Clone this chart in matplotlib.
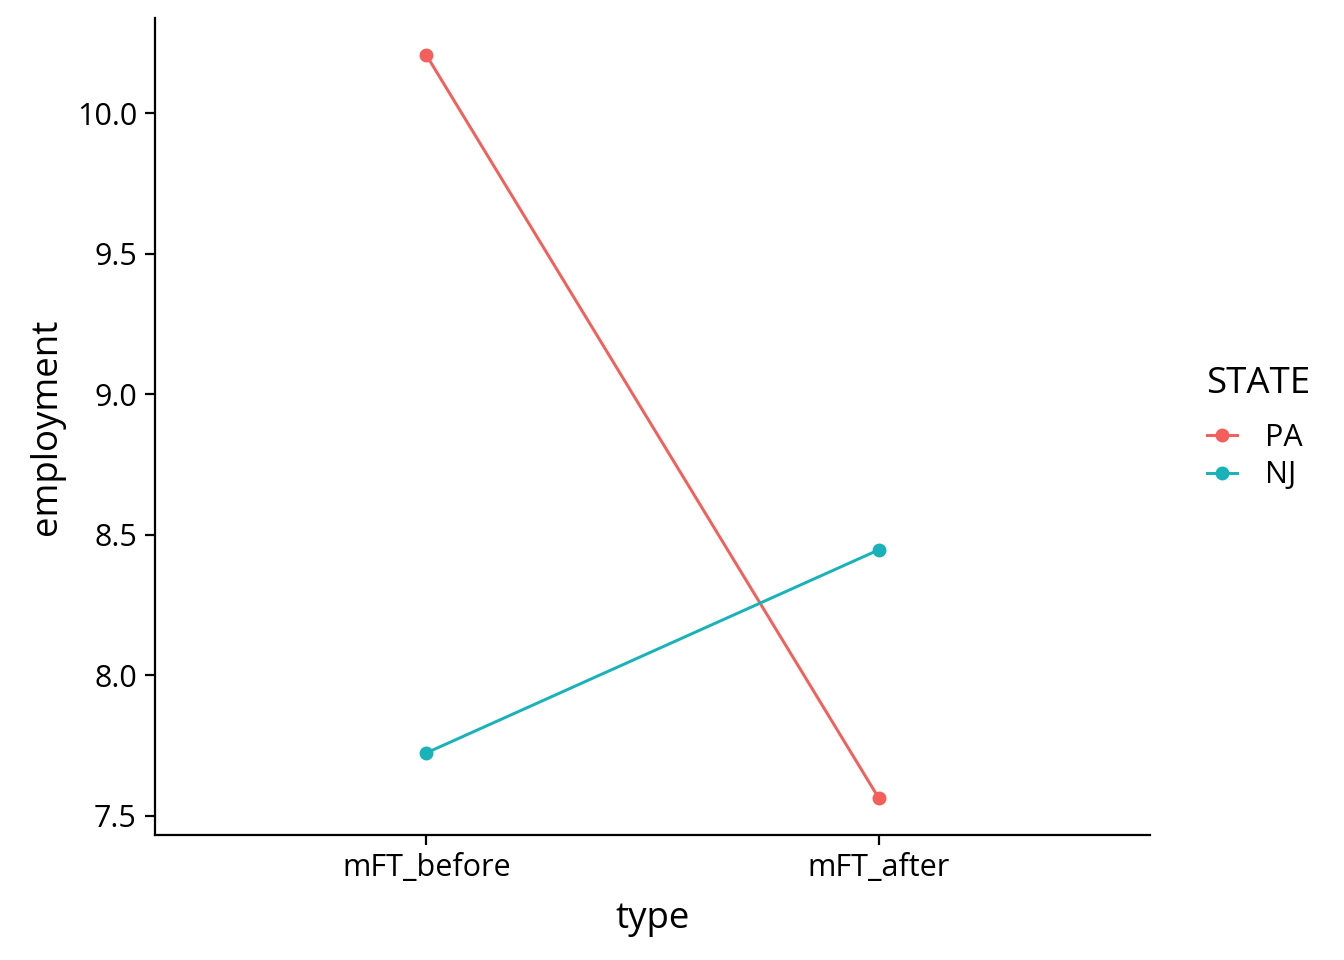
import matplotlib
matplotlib.use("Agg")
import matplotlib.pyplot as plt
from matplotlib.lines import Line2D

plt.rcParams['font.family'] = ['Open Sans', 'DejaVu Sans']

categories = ["mFT_before", "mFT_after"]
states = ["PA", "NJ"]
pa_values = [10.206, 7.564]
nj_values = [7.724, 8.446]
colors = {"PA": "#F35F5A", "NJ": "#19B2B8"}
yticks = [7.5, 8.0, 8.5, 9.0, 9.5, 10.0]

fig = plt.figure(figsize=(6.72, 4.8), dpi=200)
ax = fig.add_axes([155/1344, 1-835/960, (1150-155)/1344, (835-18)/960])

x = list(range(len(categories)))
series = {"PA": pa_values, "NJ": nj_values}
for s in states:
    ax.plot(x, series[s], color=colors[s], lw=1.07, marker='o', ms=4.0, zorder=3)

ax.set_xlim(-0.6, 1.6)
allv = pa_values + nj_values
lo, hi = min(allv), max(allv)
pad = (hi - lo) * 0.05
ax.set_ylim(lo - pad, hi + pad)
ax.set_xticks(x)
ax.set_xticklabels(categories)
ax.set_yticks(yticks)
ax.set_yticklabels([f"{v:.1f}" for v in yticks])

for sp in ['top', 'right']:
    ax.spines[sp].set_visible(False)
for sp in ['left', 'bottom']:
    ax.spines[sp].set_linewidth(0.8)
    ax.spines[sp].set_color('black')
ax.tick_params(axis='both', length=3.5, width=0.8, color='black', labelsize=11, labelcolor='black', pad=3)

ax.set_xlabel("type", fontsize=13.2, labelpad=6.5)
ax.set_ylabel("employment", fontsize=13.2, labelpad=4.3)

handles = [Line2D([0], [0], color=colors[s], lw=1.07, marker='o', ms=4.0) for s in states]
leg = fig.legend(handles, states, title="STATE", loc='center left',
                 bbox_to_anchor=(1179/1344, 1-428/960), frameon=False,
                 fontsize=11, title_fontsize=13.2, handlelength=1.0,
                 handletextpad=0.9, labelspacing=0.25)
leg._legend_box.align = "left"
leg._legend_box.sep = 7.5

fig.savefig("out.png", dpi=200)
